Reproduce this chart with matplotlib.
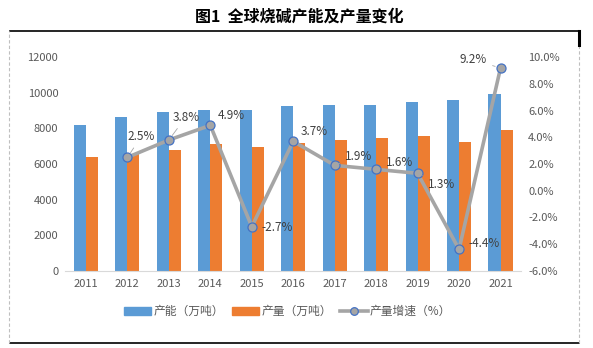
import matplotlib
matplotlib.use("Agg")
import matplotlib.pyplot as plt
from matplotlib.lines import Line2D

plt.rcParams['font.family'] = ['Noto Sans CJK SC', 'DejaVu Sans']

years = ['2011', '2012', '2013', '2014', '2015', '2016', '2017', '2018', '2019', '2020', '2021']
capacity = [8200, 8650, 8900, 9050, 9050, 9250, 9300, 9300, 9500, 9600, 9950]
output = [6400, 6550, 6800, 7150, 6950, 7200, 7350, 7450, 7550, 7250, 7900]
growth_years = years[1:]
growth = [2.5, 3.8, 4.9, -2.7, 3.7, 1.9, 1.6, 1.3, -4.4, 9.2]
growth_labels = ['2.5%', '3.8%', '4.9%', '-2.7%', '3.7%', '1.9%', '1.6%', '1.3%', '-4.4%', '9.2%']
title = '图1  全球烧碱产能及产量变化'
legend_names = ['产能（万吨）', '产量（万吨）', '产量增速（%）']

BLUE = '#5B9BD5'
ORANGE = '#ED7D31'
GRAY = '#A5A5A5'
TXT = '#595959'

fig = plt.figure(figsize=(5.93, 3.48), dpi=100)
ax = fig.add_axes([0.110, 0.2221, 0.769, 0.6132])
ax2 = ax.twinx()

x = list(range(len(years)))
w = 0.29
ax.bar([i - w / 2 for i in x], capacity, width=w, color=BLUE, zorder=2)
ax.bar([i + w / 2 for i in x], output, width=w, color=ORANGE, zorder=2)
ax.set_xlim(-0.5, len(years) - 0.5)
ax.set_ylim(0, 12000)
ax.set_yticks(range(0, 12001, 2000))
ax.set_xticks(x)
ax.set_xticklabels(years)

gx = [years.index(y) for y in growth_years]
ax2.plot(gx, growth, color=GRAY, lw=2.6, marker='o', ms=6.5,
         mfc=GRAY, mec='#4472C4', mew=0.9, zorder=3)
ax2.set_ylim(-6, 10)
ax2.set_yticks([-6, -4, -2, 0, 2, 4, 6, 8, 10])
ax2.set_yticklabels([f'{v:.1f}%' for v in [-6, -4, -2, 0, 2, 4, 6, 8, 10]])

for a in (ax, ax2):
    for s in a.spines.values():
        s.set_visible(False)
    a.tick_params(length=0, labelsize=8, labelcolor=TXT)
ax.spines['bottom'].set_visible(True)
ax.spines['bottom'].set_color('#D9D9D9')
ax.tick_params(axis='x', pad=6)
ax.tick_params(axis='y', pad=5)
ax2.tick_params(axis='y', pad=5)

# data labels with leader lines (offsets in pixels)
offsets = [(14, 21), (17, 23), (21, 10), (25, -1), (21, 10), (24, 9), (23, 7), (24, -11), (25, 6), (-27, 8)]
for xi, yi, lab, (dx, dy) in zip(gx, growth, growth_labels, offsets):
    ax2.annotate(lab, xy=(xi, yi), xytext=(dx, dy), textcoords='offset pixels',
                 ha='center', va='center', fontsize=8.5, color='#404040', zorder=5,
                 arrowprops=dict(arrowstyle='-', color='#A6A6A6', lw=0.6,
                                 shrinkA=2, shrinkB=4))

# legend
handles = [plt.Rectangle((0, 0), 1, 1, color=BLUE),
           plt.Rectangle((0, 0), 1, 1, color=ORANGE),
           Line2D([], [], color=GRAY, lw=2.6, marker='o', ms=5.5, mfc=GRAY, mec='#4472C4', mew=0.9)]
leg = fig.legend(handles, legend_names, loc='center', bbox_to_anchor=(0.485, 0.104),
                 ncol=3, frameon=False, fontsize=8.5, handlelength=2.3, handletextpad=0.2,
                 columnspacing=0.7, labelcolor=TXT)

fig.text(0.505, 0.951, title, ha='center', va='center', fontsize=11.5, fontweight='bold', color='black')

# frame lines
fig.add_artist(Line2D([0.017, 0.976], [0.911, 0.911], color='black', lw=1.2, transform=fig.transFigure))
fig.add_artist(Line2D([0.017, 0.976], [0.0144, 0.0144], color='black', lw=1.2, transform=fig.transFigure))
fig.add_artist(Line2D([0.016, 0.016], [0.0144, 0.911], color='#BFBFBF', lw=0.8, ls=(0, (3, 2)), transform=fig.transFigure))
fig.add_artist(Line2D([0.976, 0.976], [0.0144, 0.911], color='#BFBFBF', lw=0.8, ls=(0, (3, 2)), transform=fig.transFigure))
fig.add_artist(Line2D([0.976, 0.976], [0.872, 0.911], color='black', lw=2.2, transform=fig.transFigure))

fig.savefig('out.png', dpi=100)
